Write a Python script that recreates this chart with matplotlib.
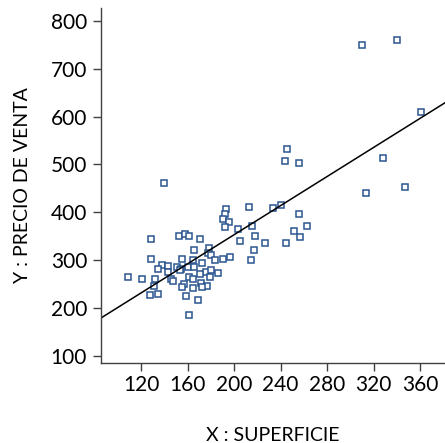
import numpy as np
import matplotlib.pyplot as plt

plt.rcParams['font.family'] = ['Lato', 'DejaVu Sans']

# superficie (x) and precio de venta (y)
superficie = [140.0, 193.1, 192.0, 190.8, 195.4, 192.5, 128.9, 152.7, 157.8, 161.0,
              170.5, 165.3, 178.8, 177.9, 180.0, 128.3, 155.0, 164.5, 172.5, 183.4,
              190.8, 196.6, 137.8, 143.0, 134.4, 151.2, 154.4, 160.4, 165.8, 153.5,
              143.0, 175.9, 180.0, 186.0, 170.8, 161.3, 164.5, 179.4, 109.1, 120.6,
              132.3, 145.5, 147.5, 157.2, 171.6, 176.8, 131.4, 155.5, 164.5, 172.7,
              128.0, 134.9, 158.5, 168.8, 161.3, 245.6, 243.9, 256.2, 313.5, 213.2,
              233.8, 240.7, 255.7, 203.4, 215.7, 217.8, 205.2, 226.7, 245.0, 251.9,
              263.1, 257.0, 217.5, 214.9, 309.8, 340.5, 360.9, 328.4, 347.4]
precio = [460.8, 406.5, 396.1, 385.6, 380.6, 368.9, 345.1, 350.7, 354.9, 350.7,
          345.1, 320.8, 325.0, 315.8, 311.0, 303.3, 302.0, 300.6, 294.9, 300.6,
          302.7, 306.2, 290.8, 288.0, 281.8, 285.3, 282.4, 285.3, 285.3, 279.7,
          275.5, 275.5, 279.7, 274.0, 270.7, 265.7, 261.5, 264.4, 265.7, 260.9,
          260.3, 260.3, 256.7, 250.4, 251.9, 246.9, 246.3, 243.5, 242.1, 243.5,
          227.5, 230.2, 225.4, 217.0, 185.7, 531.9, 506.8, 502.6, 440.6, 410.7,
          408.6, 415.5, 396.1, 366.0, 371.0, 351.4, 340.9, 335.5, 335.5, 361.2,
          371.0, 348.6, 321.5, 301.2, 749.8, 760.2, 610.4, 513.7, 453.7]

# fitted line
intercepto = 49.0
pendiente = 1.52

x_ticks = [120, 160, 200, 240, 280, 320, 360]
y_ticks = [100, 200, 300, 400, 500, 600, 700, 800]

fig = plt.figure(figsize=(4.45, 4.43), dpi=100)
ax = fig.add_axes([0.227, 0.181, 0.773, 0.801])

ax.plot(superficie, precio, linestyle='none', marker='s', markersize=4.5,
        markerfacecolor='white', markeredgecolor='#2b5590', markeredgewidth=1.1)

xx = np.array([85.6, 381.5])
ax.plot(xx, intercepto + pendiente * xx, color='black', linewidth=1.1)

ax.set_xlim(85.6, 381.5)
ax.set_ylim(85.4, 827)
ax.set_xticks(x_ticks)
ax.set_yticks(y_ticks)

for s in ['top', 'right']:
    ax.spines[s].set_visible(False)
for s in ['left', 'bottom']:
    ax.spines[s].set_color('#404040')
    ax.spines[s].set_linewidth(1.0)

ax.tick_params(direction='out', length=6, width=1.0, color='#404040',
               labelsize=15, labelcolor='black', pad=3)
ax.tick_params(axis='y', pad=4)

ax.set_xlabel('X : SUPERFICIE', fontsize=14, labelpad=23)
ax.set_ylabel('Y : PRECIO DE VENTA', fontsize=14, labelpad=14)

fig.savefig('out.png', dpi=100)
